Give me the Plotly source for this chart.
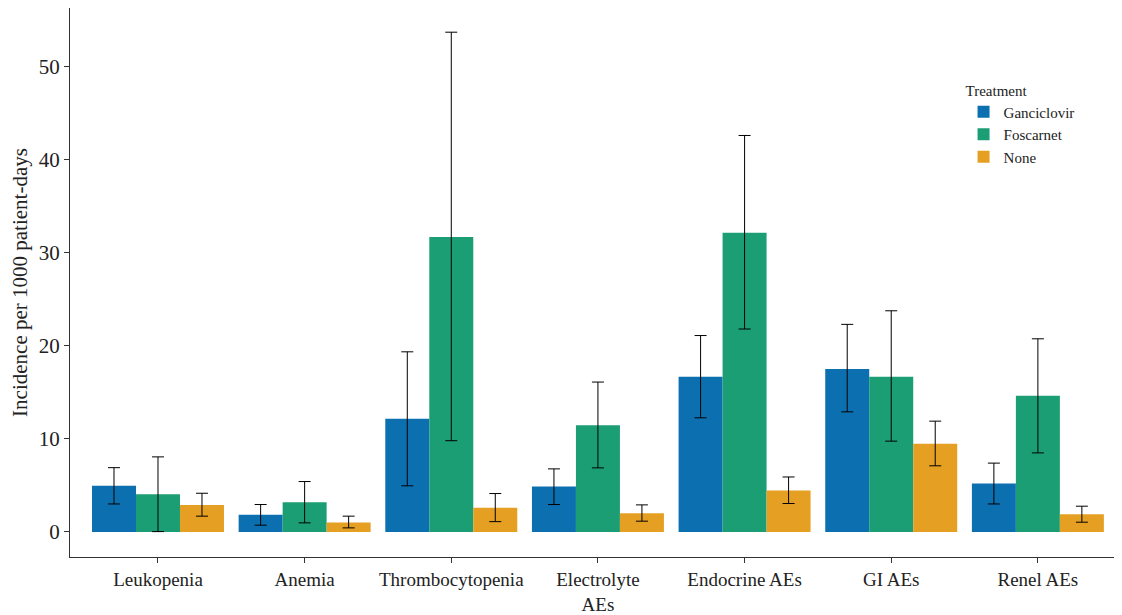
import plotly.graph_objects as go

categories = ["Leukopenia", "Anemia", "Thrombocytopenia", "Electrolyte<br>AEs",
              "Endocrine AEs", "GI AEs", "Renel AEs"]
treatments = ["Ganciclovir", "Foscarnet", "None"]

ganciclovir = [4.95, 1.83, 12.15, 4.87, 16.67, 17.5, 5.2]
ganciclovir_lo = [3.0, 0.72, 4.95, 2.94, 12.26, 12.9, 3.0]
ganciclovir_hi = [6.9, 2.94, 19.35, 6.77, 21.1, 22.3, 7.39]

foscarnet = [4.05, 3.19, 31.7, 11.47, 32.15, 16.67, 14.62]
foscarnet_lo = [0.03, 0.97, 9.8, 6.88, 21.8, 9.75, 8.49]
foscarnet_hi = [8.06, 5.41, 53.7, 16.1, 42.6, 23.76, 20.75]

none_vals = [2.9, 1.0, 2.6, 2.0, 4.44, 9.46, 1.9]
none_lo = [1.69, 0.43, 1.1, 1.15, 3.05, 7.1, 1.04]
none_hi = [4.15, 1.69, 4.12, 2.9, 5.9, 11.9, 2.76]

colors = ["#0C6FB0", "#1B9E74", "#E5A023"]
series = [
    (ganciclovir, ganciclovir_lo, ganciclovir_hi),
    (foscarnet, foscarnet_lo, foscarnet_hi),
    (none_vals, none_lo, none_hi),
]

font = "Liberation Serif, Times New Roman, serif"
fig = go.Figure()
for name, color, (vals, lo, hi) in zip(treatments, colors, series):
    fig.add_trace(go.Bar(
        name=name, x=categories, y=vals,
        marker=dict(color=color, line=dict(width=0)),
        error_y=dict(type="data", symmetric=False,
                     array=[h - v for h, v in zip(hi, vals)],
                     arrayminus=[v - l for v, l in zip(vals, lo)],
                     color="black", thickness=1, width=6),
    ))

fig.update_layout(
    width=1122, height=615,
    barmode="group", bargap=0.1, bargroupgap=0,
    plot_bgcolor="white", paper_bgcolor="white",
    margin=dict(l=62, r=10, t=0, b=66, autoexpand=False),
    font=dict(family=font, size=20, color="#222"),
    legend=dict(title=dict(text="Treatment", font=dict(size=15, family=font)),
                font=dict(size=15, family=font),
                x=0.851, y=0.876, xanchor="left", yanchor="top",
                bgcolor="rgba(0,0,0,0)", tracegroupgap=0),
    xaxis=dict(range=[-0.6, 6.56], showline=True, linecolor="#333", linewidth=1,
               ticks="outside", ticklen=5, tickcolor="#333",
               tickfont=dict(size=19, family=font, color="#222"), showgrid=False),
    yaxis=dict(range=[-2.7, 56.3], showline=True, linecolor="#333", linewidth=1,
               ticks="outside", ticklen=5, tickcolor="#333",
               tickvals=[0, 10, 20, 30, 40, 50], showgrid=False, zeroline=False,
               tickfont=dict(size=21, family=font, color="#222"),
               title=dict(text="Incidence per 1000 patient-days",
                          font=dict(size=21, family=font, color="#222"), standoff=8)),
)

fig.write_html("out.html")
